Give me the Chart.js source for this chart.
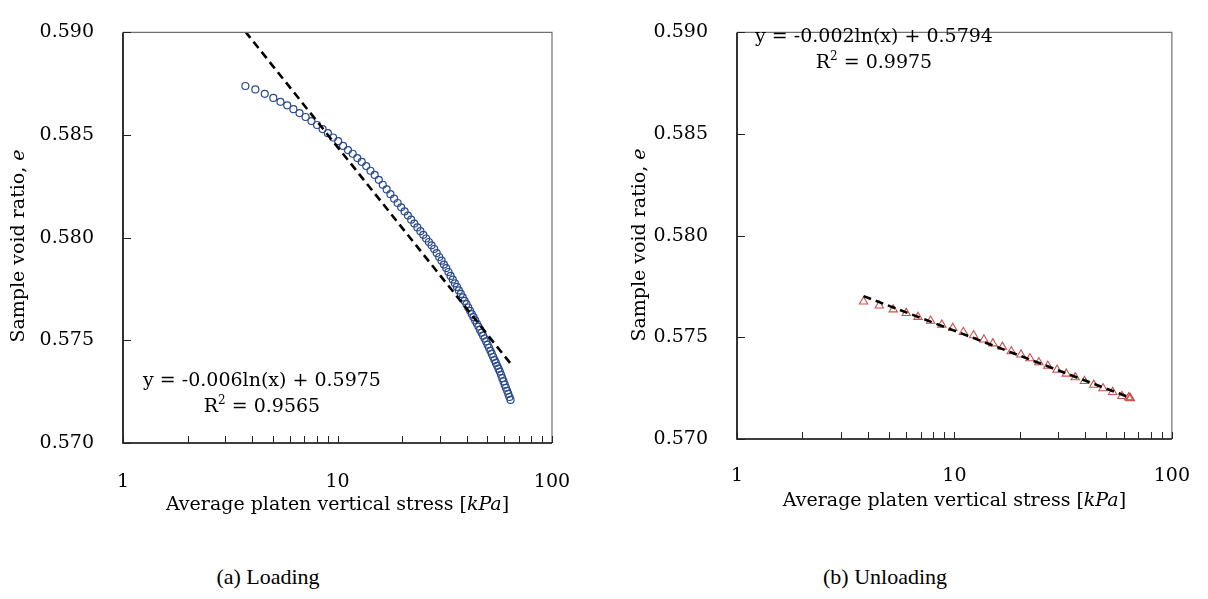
<!DOCTYPE html>
<html>
<head>
<meta charset="utf-8">
<title>Void ratio vs platen stress</title>
<script src="https://cdn.jsdelivr.net/npm/chart.js@4.4.1/dist/chart.umd.min.js"></script>
<style>
  html, body { margin: 0; padding: 0; background: #fff; }
  #page { position: relative; width: 1208px; height: 599px; overflow: hidden; }
  .panel { position: absolute; top: 0; width: 604px; height: 540px; }
  .caption { position: absolute; top: 564px; transform: translateX(-50%); white-space: nowrap;
             font: 22px "Liberation Serif", "Times New Roman", serif; color: #000; }
</style>
</head>
<body>
<div id="page">
  <div class="panel" style="left:0"><canvas id="chartLoad" width="604" height="540"></canvas></div>
  <div class="panel" style="left:604px"><canvas id="chartUnload" width="604" height="540"></canvas></div>
  <div class="caption" style="left:268px">(a) Loading</div>
  <div class="caption" style="left:885px">(b) Unloading</div>
</div>
<script>
// ---- data: average platen vertical stress [kPa] and sample void ratio ----
const loadStress = [3.72, 4.14, 4.58, 5.02, 5.42, 5.83, 6.23, 6.65, 7.10, 7.56,
  8.03, 8.52, 9.02, 9.54, 10.07, 10.62, 11.19, 11.77, 12.37, 12.98,
  13.61, 14.25, 14.91, 15.58, 16.26, 16.95, 17.65, 18.36, 19.08, 19.81,
  20.55, 21.30, 22.05, 22.81, 23.57, 24.34, 25.11, 25.89, 26.67, 27.45,
  28.23, 29.01, 29.79, 30.57, 31.35, 32.13, 32.91, 33.69, 34.47, 35.25,
  36.03, 36.81, 37.59, 38.37, 39.15, 39.93, 40.71, 41.49, 42.27, 43.05,
  43.83, 44.61, 45.39, 46.17, 46.95, 47.73, 48.51, 49.29, 50.07, 50.85,
  51.63, 52.41, 53.19, 53.97, 54.75, 55.53, 56.31, 57.09, 57.87, 58.65,
  59.43, 60.21, 60.99, 61.77, 62.55, 63.33, 64.10];
const loadVoid = [0.58739, 0.58722, 0.58701, 0.58681, 0.58662, 0.58645, 0.58626, 0.58607, 0.58588, 0.58568,
  0.58549, 0.58529, 0.58509, 0.58488, 0.58470, 0.58447, 0.58427, 0.58409, 0.58388, 0.58369,
  0.58349, 0.58326, 0.58306, 0.58282, 0.58258, 0.58235, 0.58212, 0.58190, 0.58169, 0.58148,
  0.58128, 0.58108, 0.58088, 0.58069, 0.58050, 0.58032, 0.58014, 0.57996, 0.57979, 0.57963,
  0.57945, 0.57925, 0.57906, 0.57888, 0.57869, 0.57852, 0.57833, 0.57814, 0.57796, 0.57778,
  0.57760, 0.57743, 0.57726, 0.57709, 0.57692, 0.57676, 0.57660, 0.57644, 0.57628, 0.57613,
  0.57597, 0.57582, 0.57567, 0.57552, 0.57537, 0.57523, 0.57509, 0.57495, 0.57479, 0.57464,
  0.57449, 0.57434, 0.57419, 0.57404, 0.57390, 0.57376, 0.57362, 0.57348, 0.57332, 0.57316,
  0.57300, 0.57284, 0.57269, 0.57254, 0.57239, 0.57224, 0.57210];

const unloadStress = [3.82, 4.51, 5.23, 6.00, 6.80, 7.77, 8.75, 9.83, 10.99, 12.25,
  13.66, 15.02, 16.62, 18.27, 20.23, 22.23, 24.44, 26.87, 29.64, 32.69,
  35.94, 39.63, 43.72, 48.24, 53.40, 58.90, 63.30, 64.10, 64.40];
const unloadVoid = [0.57676, 0.57656, 0.57637, 0.57619, 0.57600, 0.57581, 0.57562, 0.57546, 0.57526, 0.57510,
  0.57489, 0.57470, 0.57453, 0.57431, 0.57415, 0.57397, 0.57377, 0.57360, 0.57340, 0.57321,
  0.57303, 0.57285, 0.57266, 0.57249, 0.57231, 0.57211, 0.57205, 0.57202, 0.57200];

// log trendlines: e = a ln(x) + b
const loadFit = [-0.00568, 0.5975];
const loadR2 = 0.9565;
const unloadFit = [-0.00177, 0.5794];
const unloadR2 = 0.9975;

// axes
const xTickValues = [1, 10, 100];
const xMinorTicks = [2, 3, 4, 5, 6, 7, 8, 9, 20, 30, 40, 50, 60, 70, 80, 90];
const yTickValues = [0.570, 0.575, 0.580, 0.585, 0.590];

// ---- helpers ----
const SERIF = '"DejaVu Serif", "Liberation Serif", serif';
const f = (size, style) => (style ? style + ' ' : '') + size + 'px ' + SERIF;
const fitAt = (fit, x) => fit[0] * Math.log(x) + fit[1];
const round = (v, d) => String(Math.round(v * Math.pow(10, d)) / Math.pow(10, d));

// draws a run of differently styled pieces centred on x; piece = [text, font, raise]
function drawRich(ctx, parts, x, y) {
  let w = 0;
  parts.forEach(p => { ctx.font = p[1]; w += ctx.measureText(p[0]).width; });
  let cx = x - w / 2;
  parts.forEach(p => {
    ctx.font = p[1];
    ctx.fillText(p[0], cx, y - (p[2] || 0));
    cx += ctx.measureText(p[0]).width;
  });
}

// frame, inward ticks, axis titles and the trendline equation
const framePlugin = {
  id: 'frame',
  afterDraw(chart, args, o) {
    const { ctx, chartArea: a, scales } = chart;
    ctx.save();
    ctx.strokeStyle = '#707070'; ctx.lineWidth = 1.2;
    ctx.beginPath(); ctx.moveTo(a.left, a.top); ctx.lineTo(a.right, a.top); ctx.lineTo(a.right, a.bottom); ctx.stroke();
    ctx.strokeStyle = '#000'; ctx.lineWidth = 1.6;
    ctx.beginPath(); ctx.moveTo(a.left, a.top); ctx.lineTo(a.left, a.bottom); ctx.lineTo(a.right, a.bottom); ctx.stroke();

    ctx.lineWidth = 1; ctx.strokeStyle = '#222';
    ctx.beginPath();
    xMinorTicks.concat(xTickValues).forEach(v => {
      const px = Math.round(scales.x.getPixelForValue(v)) + 0.5;
      ctx.moveTo(px, a.bottom); ctx.lineTo(px, a.bottom - 7);
    });
    yTickValues.forEach(v => {
      const py = Math.round(scales.y.getPixelForValue(v)) + 0.5;
      ctx.moveTo(a.left, py); ctx.lineTo(a.left + 8, py);
    });
    ctx.stroke();

    ctx.fillStyle = '#000';
    ctx.textBaseline = 'alphabetic';
    const fit = o.fit, r2 = o.r2;
    drawRich(ctx, [['y = ' + round(fit[0], 3) + 'ln(x) + ' + round(fit[1], 4), f(19)]], o.eqX, o.eqY[0]);
    drawRich(ctx, [['R', f(19)], ['2', f(12), 8], [' = ' + round(r2, 4), f(19)]], o.eqX, o.eqY[1]);

    drawRich(ctx, [['Average platen vertical stress [', f(19)], ['kPa', f(19, 'italic')], [']', f(19)]],
      (a.left + a.right) / 2, o.xTitleY);

    ctx.translate(o.yTitleX, o.yTitleY);
    ctx.rotate(-Math.PI / 2);
    drawRich(ctx, [['Sample void ratio, ', f(19)], ['e', f(19, 'italic')]], 0, 0);
    ctx.restore();
  }
};

function makePanel(id, stress, voids, fit, r2, marker, layout) {
  const pts = stress.map((x, i) => ({ x: x, y: voids[i] }));
  const x0 = stress[0], x1 = stress[stress.length - 1];
  return new Chart(document.getElementById(id), {
    type: 'scatter',
    data: {
      datasets: [
        {
          data: [{ x: x0, y: fitAt(fit, x0) }, { x: x1, y: fitAt(fit, x1) }],
          showLine: true, borderColor: '#000', borderWidth: 2.6, borderDash: [8, 5],
          pointRadius: 0, fill: false
        },
        Object.assign({ data: pts, showLine: false, pointBackgroundColor: 'rgba(0,0,0,0)' }, marker)
      ]
    },
    options: {
      responsive: false,
      devicePixelRatio: 1,
      animation: false,
      events: [],
      layout: { padding: layout.padding },
      plugins: {
        legend: { display: false },
        tooltip: { enabled: false },
        frame: layout.frame
      },
      scales: {
        x: {
          type: 'logarithmic', min: 1, max: 100, position: 'bottom',
          grid: { display: false }, border: { display: false },
          afterBuildTicks: s => { s.ticks = xTickValues.map(v => ({ value: v })); },
          afterFit: s => { s.height = 60; },
          ticks: { color: '#000', font: { family: SERIF, size: 19 }, padding: layout.xPad,
                   autoSkip: false, maxRotation: 0, callback: v => String(v) }
        },
        y: {
          type: 'linear', min: 0.570, max: 0.590,
          grid: { display: false }, border: { display: false },
          afterBuildTicks: s => { s.ticks = yTickValues.map(v => ({ value: v })); },
          afterFit: s => { s.width = 100; },
          ticks: { color: '#000', font: { family: SERIF, size: 19 }, padding: 21,
                   callback: v => v.toFixed(3) }
        }
      }
    },
    plugins: [framePlugin]
  });
}

makePanel('chartLoad', loadStress, loadVoid, loadFit, loadR2,
  { pointStyle: 'circle', pointRadius: 3.5, pointBorderWidth: 1.2, pointBorderColor: '#2a4a8e' },
  {
    padding: { left: 23, top: 17, right: 52, bottom: 37 },
    xPad: 20,
    frame: { fit: loadFit, r2: loadR2, eqX: 262, eqY: [386, 412], xTitleY: 510, yTitleX: 24, yTitleY: 246 }
  });

makePanel('chartUnload', unloadStress, unloadVoid, unloadFit, unloadR2,
  { pointStyle: 'triangle', pointRadius: 4.8, pointBorderWidth: 1.1, pointBorderColor: '#cc4f4b' },
  {
    padding: { left: 33, top: 18, right: 33, bottom: 41 },
    xPad: 18,
    frame: { fit: unloadFit, r2: unloadR2, eqX: 270, eqY: [42, 68], xTitleY: 506, yTitleX: 41, yTitleY: 245 }
  });
</script>
</body>
</html>
